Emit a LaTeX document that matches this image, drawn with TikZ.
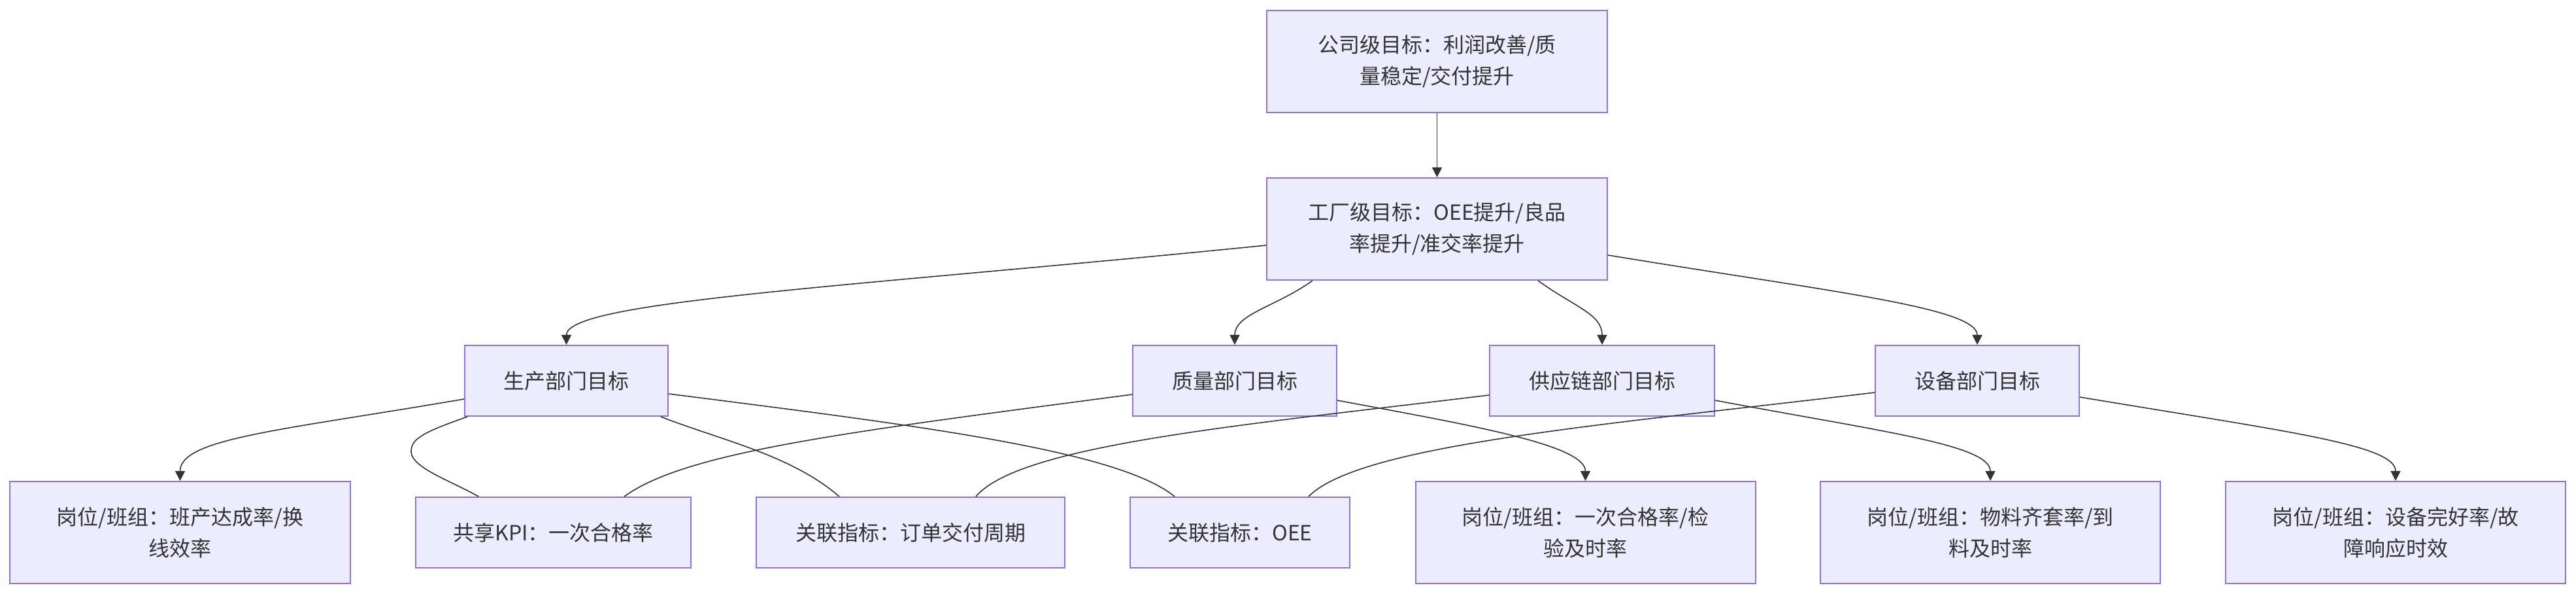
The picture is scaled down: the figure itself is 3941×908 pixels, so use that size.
\documentclass[tikz,border=0pt]{standalone}
\usepackage{fontspec}
\setmainfont{Noto Sans CJK SC}
\usetikzlibrary{arrows.meta}
\definecolor{nodefill}{HTML}{ECECFF}
\definecolor{nodeborder}{HTML}{9370DB}
\definecolor{edgecol}{HTML}{333333}
\definecolor{textcol}{HTML}{333333}
\begin{document}
\begin{tikzpicture}[x=0.5pt,y=-0.5pt,
  box/.style={draw=nodeborder, fill=nodefill, line width=1pt, inner sep=0pt, align=center,
    text=textcol, font=\fontsize{16pt}{24pt}\selectfont},
  tallbox/.style={box, minimum height=78pt},
  lowbox/.style={box, minimum height=54pt},
  link/.style={draw=edgecol, line width=0.8pt},
  arrowlink/.style={link, -{Triangle[length=7.5pt,width=7.5pt]}}]
\fill[white] (0,0) rectangle (3941,908);
\useasboundingbox (0,0) rectangle (3941,908);

\node[tallbox, minimum width=260.5pt] (A) at (2198.5,94) {公司级目标：利润改善/质\\量稳定/交付提升};
\node[tallbox, minimum width=260.5pt] (B) at (2198.5,350) {工厂级目标：OEE提升/良品\\率提升/准交率提升};

\node[lowbox, minimum width=155.5pt] (C) at (866.5,582) {生产部门目标};
\node[lowbox, minimum width=156pt] (D) at (1889,582) {质量部门目标};
\node[lowbox, minimum width=172pt] (E) at (2451,582) {供应链部门目标};
\node[lowbox, minimum width=156pt] (F) at (3025,582) {设备部门目标};

\node[tallbox, minimum width=260.5pt] (G) at (275.5,814) {岗位/班组：班产达成率/换\\线效率};
\node[lowbox, minimum width=210.5pt] (H) at (846.5,814) {共享KPI：一次合格率};
\node[lowbox, minimum width=236pt] (I) at (1393,814) {关联指标：订单交付周期};
\node[lowbox, minimum width=168pt] (J) at (1897,814) {关联指标：OEE};
\node[tallbox, minimum width=260pt] (K) at (2425.5,814) {岗位/班组：一次合格率/检\\验及时率};
\node[tallbox, minimum width=260pt] (L) at (3045,814) {岗位/班组：物料齐套率/到\\料及时率};
\node[tallbox, minimum width=260pt] (M) at (3665,814) {岗位/班组：设备完好率/故\\障响应时效};

% top level
\draw[arrowlink] (A.south) -- (B.north);
\draw[arrowlink] ([yshift=-12.5pt]B.west) .. controls (1300,439) and (866.5,460) .. (C.north);
\draw[arrowlink] ([xshift=-95.25pt]B.south) .. controls (1950,470) and (1889,480) .. (D.north);
\draw[arrowlink] ([xshift=77.25pt]B.south) .. controls (2410,470) and (2451,480) .. (E.north);
\draw[arrowlink] ([yshift=-20pt]B.east) .. controls (2800,446) and (3025,470) .. (F.north);

% department level
\draw[arrowlink] ([yshift=-14pt]C.west) .. controls (430,658) and (275.5,670) .. (G.north);
\draw[link] ([xshift=2.5pt]C.south west) .. controls (650,660) and (629,670) .. (629,690)
  .. controls (629,715) and (690,735) .. ([xshift=48.5pt]H.north west);
\draw[link] ([yshift=-10.5pt]D.west) .. controls (1300,660) and (1050,690) .. ([xshift=-51.5pt]H.north east);
\draw[link] ([xshift=-6pt]C.south east) .. controls (1100,672) and (1210,695) .. ([xshift=64pt]I.north west);
\draw[link] ([yshift=-11pt]E.west) .. controls (1900,650) and (1560,680) .. ([xshift=-68.5pt]I.north east);
\draw[link] ([yshift=-10pt]C.east) .. controls (1400,650) and (1710,688) .. ([xshift=34.5pt]J.north west);
\draw[link] ([yshift=-9pt]F.west) .. controls (2450,650) and (2080,680) .. ([xshift=-32pt]J.north east);
\draw[arrowlink] ([yshift=-15pt]D.east) .. controls (2250,650) and (2425.5,680) .. (K.north);
\draw[arrowlink] ([yshift=-15pt]E.east) .. controls (2880,660) and (3045,680) .. (L.north);
\draw[arrowlink] ([yshift=-12.5pt]F.east) .. controls (3500,660) and (3665,680) .. (M.north);
\end{tikzpicture}
\end{document}
